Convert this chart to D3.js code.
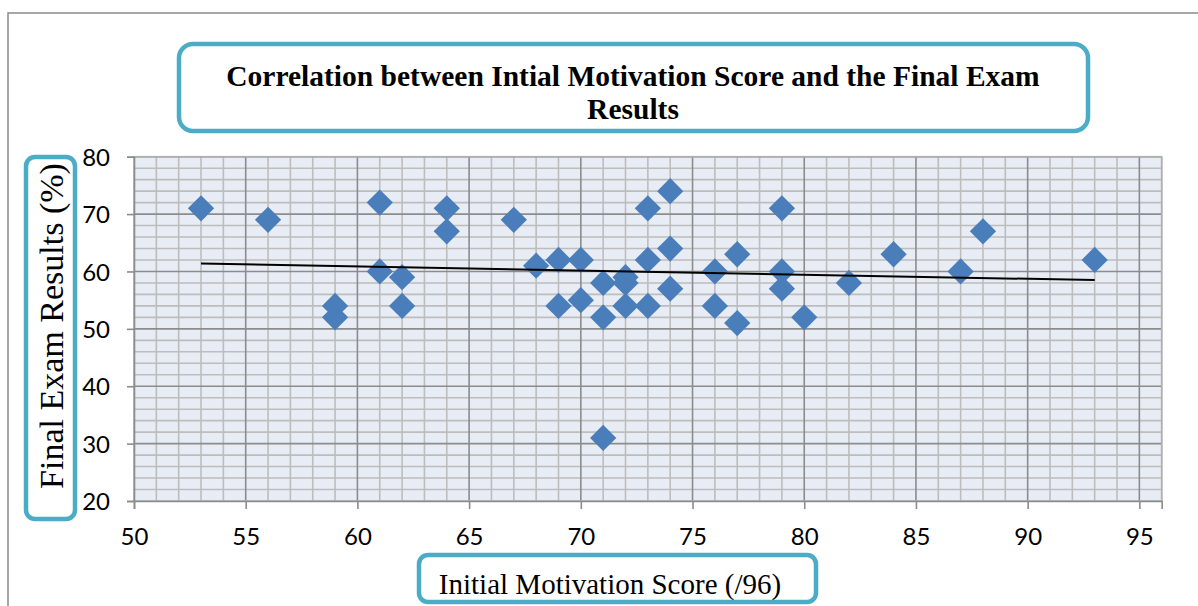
<!DOCTYPE html>
<html>
<head>
<meta charset="utf-8">
<script src="https://cdn.jsdelivr.net/npm/d3@7"></script>
<style>
  body { margin: 0; background: #fff; }
  .tick text { font-family: Lato, "Open Sans", sans-serif; font-size: 24px; fill: #000; }
</style>
</head>
<body>
<div class="chart"></div>
<script>
'use strict';

// scores (x = initial motivation, y = final exam %)
const scores  = [53, 56, 59, 59, 61, 61, 62, 62, 64, 64, 67, 68, 69, 69, 70, 70, 71, 71, 71, 72, 72, 72,
                 73, 73, 73, 74, 74, 74, 76, 76, 77, 77, 79, 79, 79, 80, 82, 84, 87, 88, 93];
const results = [71, 69, 54, 52, 72, 60, 59, 54, 71, 67, 69, 61, 62, 54, 62, 55, 58, 52, 31, 59, 58, 54,
                 71, 62, 54, 74, 64, 57, 60, 54, 63, 51, 71, 60, 57, 52, 58, 63, 60, 67, 62];

// linear trend line end points
const trendX = [53, 93];
const trendY = [61.4, 58.5];

const xTicks = [50, 55, 60, 65, 70, 75, 80, 85, 90, 95];
const yTicks = [20, 30, 40, 50, 60, 70, 80];

const titleLines = ["Correlation between Intial Motivation Score and the Final Exam", "Results"];
const xLabel = "Initial Motivation Score (/96)";
const yLabel = "Final Exam Results (%)";

let svg = d3.select('.chart').append('svg')
  .attr('width', 1198).attr('height', 606);

// outer frame
svg.append('rect')
  .attr('x', 8).attr('y', 13).attr('width', 1300).attr('height', 700)
  .attr('fill', 'none').attr('stroke', '#8a8a8a').attr('stroke-width', 1.5);

let xScale = d3.scaleLinear().domain([50, 96]).range([134, 1161.7]);
let yScale = d3.scaleLinear().domain([20, 80]).range([501, 156.7]);

let x0 = xScale.range()[0], x1 = xScale.range()[1];
let y0 = yScale.range()[1], y1 = yScale.range()[0];

svg.append('rect')
  .attr('x', x0).attr('y', y0).attr('width', x1 - x0).attr('height', y1 - y0)
  .attr('fill', '#e8ecf4');

// minor grid
let grid = svg.append('g');
grid.selectAll('.vminor')
  .data(d3.range(51, 97, 1).filter(d => d % 5 != 0))
  .enter().append('line')
    .attr('x1', d => xScale(d)).attr('x2', d => xScale(d))
    .attr('y1', y0).attr('y2', y1)
    .attr('stroke', '#bdbdbd').attr('stroke-width', 1.6);
grid.selectAll('.hminor')
  .data(d3.range(22, 80, 2).filter(d => d % 10 != 0))
  .enter().append('line')
    .attr('x1', x0).attr('x2', x1)
    .attr('y1', d => yScale(d)).attr('y2', d => yScale(d))
    .attr('stroke', '#bdbdbd').attr('stroke-width', 1.6);

// major grid
grid.selectAll('.vmajor')
  .data(xTicks.filter(d => d > 50))
  .enter().append('line')
    .attr('x1', d => xScale(d)).attr('x2', d => xScale(d))
    .attr('y1', y0).attr('y2', y1)
    .attr('stroke', '#8c8c8c').attr('stroke-width', 1.6);
grid.selectAll('.hmajor')
  .data(yTicks.filter(d => d > 20))
  .enter().append('line')
    .attr('x1', x0).attr('x2', x1)
    .attr('y1', d => yScale(d)).attr('y2', d => yScale(d))
    .attr('stroke', '#8c8c8c').attr('stroke-width', 1.6);

svg.append('rect')
  .attr('x', x0).attr('y', y0).attr('width', x1 - x0).attr('height', y1 - y0)
  .attr('fill', 'none').attr('stroke', '#b0b0b0').attr('stroke-width', 1.6);

// axes
let xAxis = d3.axisBottom(xScale).tickValues(xTicks).tickSize(8).tickPadding(19);
let gx = svg.append('g').attr('transform', `translate(0, ${y1})`).call(xAxis);
let yAxis = d3.axisLeft(yScale).tickValues(yTicks).tickSize(7).tickPadding(17);
let gy = svg.append('g').attr('transform', `translate(${x0}, 0)`).call(yAxis);
[gx, gy].forEach(g => {
  g.selectAll('path').attr('stroke', '#8c8c8c').attr('stroke-width', 1.6);
  g.selectAll('line').attr('stroke', '#8c8c8c').attr('stroke-width', 1.6);
});
gy.selectAll('text').attr('dy', '0.36em');

// points
let pts = d3.zip(scores, results);
let diamond = d3.symbol().type(d3.symbolSquare).size(345);
svg.selectAll('.dot')
  .data(pts)
  .enter().append('path')
    .attr('d', diamond)
    .attr('transform', d => `translate(${xScale(d[0])}, ${yScale(d[1])}) rotate(45)`)
    .attr('fill', '#4a7ebb');

// trend line
let line = d3.line().x(d => xScale(d[0])).y(d => yScale(d[1]));
svg.append('path')
  .attr('d', line(d3.zip(trendX, trendY)))
  .attr('fill', 'none').attr('stroke', '#000').attr('stroke-width', 2);

// title box
let teal = '#4bacc6';
svg.append('rect')
  .attr('x', 179).attr('y', 44).attr('width', 909).attr('height', 87).attr('rx', 14)
  .attr('fill', '#fff').attr('stroke', teal).attr('stroke-width', 4.5);
svg.append('text')
  .attr('text-anchor', 'middle')
  .style('font-family', '"Liberation Serif", "Times New Roman", serif')
  .style('font-size', '29.5px').style('font-weight', 'bold')
  .selectAll('tspan').data(titleLines).enter().append('tspan')
    .attr('x', 633).attr('y', (d, i) => 86 + i * 33)
    .text(d => d);

// y label box
svg.append('rect')
  .attr('x', 26).attr('y', 157).attr('width', 49).attr('height', 362).attr('rx', 9)
  .attr('fill', '#fff').attr('stroke', teal).attr('stroke-width', 4.5);
svg.append('text')
  .attr('transform', 'translate(63, 326) rotate(-90)')
  .attr('text-anchor', 'middle')
  .style('font-family', '"Liberation Serif", "Times New Roman", serif')
  .style('font-size', '34px')
  .text(yLabel);

// x label box
svg.append('rect')
  .attr('x', 419).attr('y', 555).attr('width', 397).attr('height', 47).attr('rx', 9)
  .attr('fill', '#fff').attr('stroke', teal).attr('stroke-width', 4.5);
svg.append('text')
  .attr('x', 610).attr('y', 594)
  .attr('text-anchor', 'middle')
  .style('font-family', '"Liberation Serif", "Times New Roman", serif')
  .style('font-size', '29px')
  .text(xLabel);
</script>
</body>
</html>
